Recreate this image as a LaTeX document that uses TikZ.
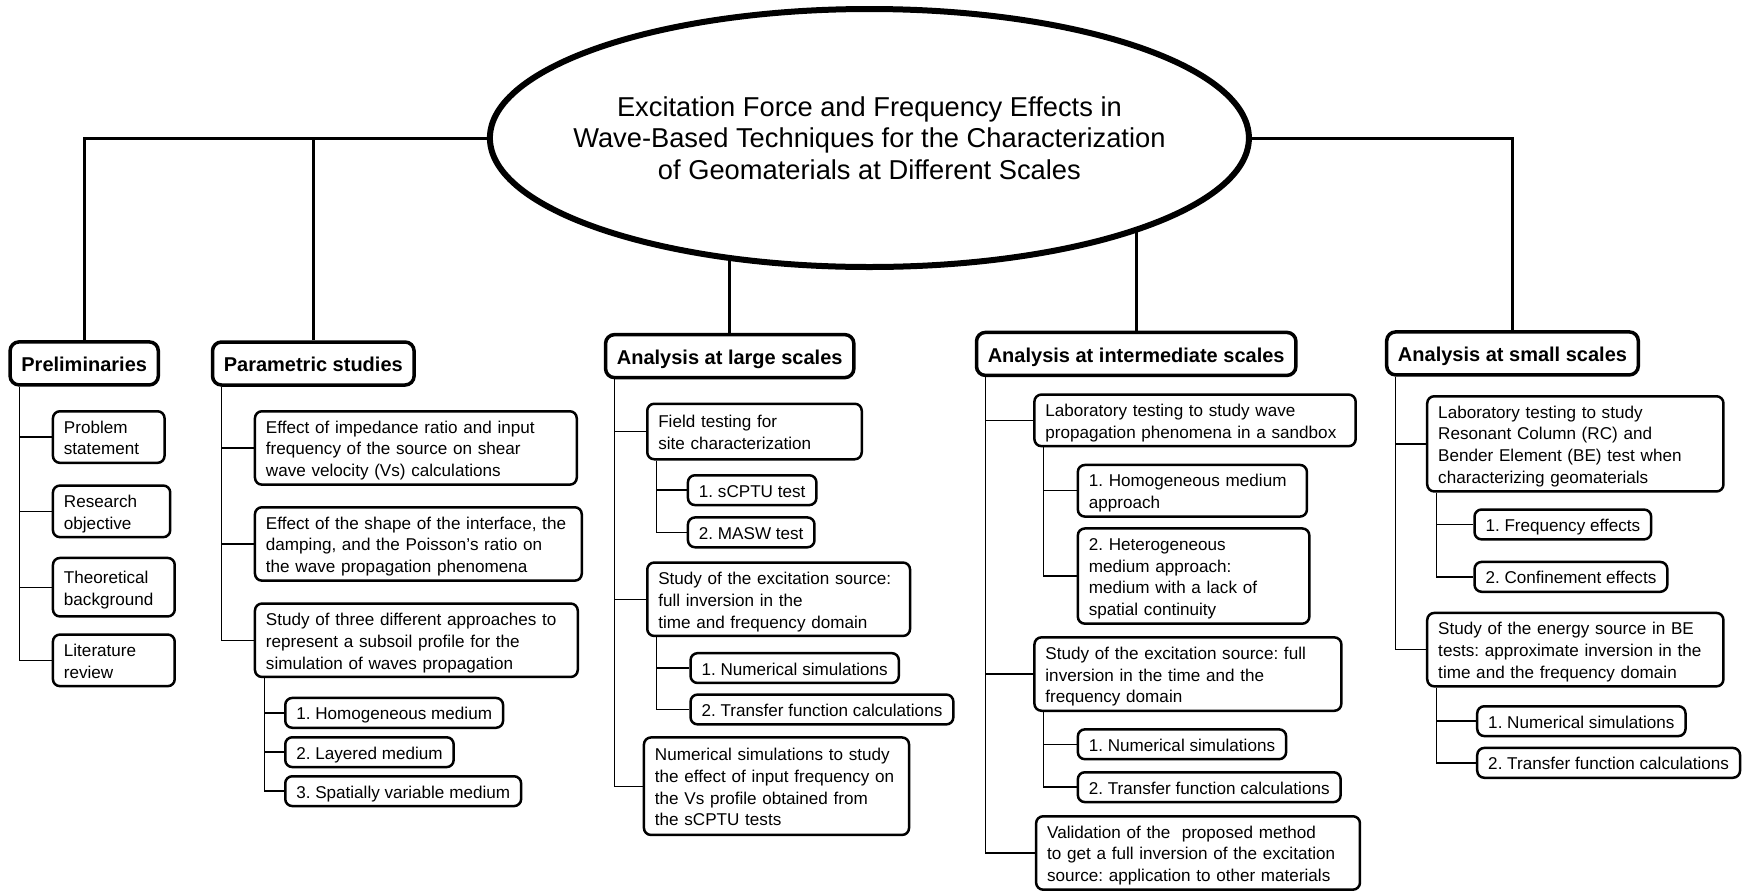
\documentclass[tikz,border=0pt]{standalone}
\usepackage{fontspec}
\setmainfont{Liberation Sans}
\usetikzlibrary{positioning,shapes.geometric,backgrounds}
\newcommand\boxstrut{\rule[-3.9pt]{0pt}{21.8pt}}
\frenchspacing

\begin{document}
\begin{tikzpicture}[x=1pt, y=-1pt,
    root/.style={ellipse, draw, fill=white, line width=6pt, minimum width=759pt, minimum height=258pt, inner sep=0pt},
    hd/.style={draw, rounded corners=9pt, line width=3.5pt, minimum height=43pt, inner xsep=11.3pt, inner ysep=0pt, text height=18.8pt, text depth=2pt, font=\fontsize{20}{24}\selectfont\bfseries},
    box/.style={draw, rounded corners=7pt, line width=2.5pt, align=left, inner xsep=11pt, inner ysep=4pt, font=\fontsize{17.1}{21.8}\selectfont, execute at begin node=\boxstrut, execute at end node=\boxstrut},
    trunk/.style={line width=3pt},
    link/.style={line width=1.4pt}]
  \useasboundingbox (0,0) rectangle (1754,895);

  \node[root] (root) at (869.4,138) {};
  \node[align=center, font=\fontsize{27.3}{31.7}\selectfont] (title) at (root.center) {Excitation Force and Frequency Effects in\\Wave-Based Techniques for the Characterization\\of Geomaterials at Different Scales};

  \node[hd] (pre) at (84.2,363.4) {Preliminaries};
  \node[hd] (par) at (313.3,363.5) {Parametric studies};
  \node[hd] (lar) at (729.7,356.1) {Analysis at large scales};
  \node[hd] (int) at (1136.2,353.9) {Analysis at intermediate scales};
  \node[hd] (sma) at (1512.5,353.4) {Analysis at small scales};

  \node[box, text width=89.6pt, below right=23.35pt and 43.35pt of pre.south west] (prob) {Problem\\statement};
  \node[box, text width=95.3pt, below right=20.2pt and 0pt of prob.south west] (res) {Research\\objective};
  \node[box, text width=99.8pt, minimum height=58.5pt, below right=18.3pt and 0pt of res.south west] (the) {Theoretical\\background};
  \node[box, text width=99.8pt, below right=15.6pt and 0pt of the.south west] (lit) {Literature\\review};

  \node[box, text width=299.8pt, below right=23.25pt and 42.95pt of par.south west] (ef1) {Effect of impedance ratio and input\\frequency of the source on shear\\wave velocity (Vs) calculations};
  \node[box, text width=304.8pt, below right=20.1pt and 0pt of ef1.south west] (ef2) {Effect of the shape of the interface, the\\damping, and the Poisson’s ratio on\\the wave propagation phenomena};
  \node[box, text width=300.8pt, below right=20.4pt and 0pt of ef2.south west] (thr) {Study of three different approaches to\\represent a subsoil profile for the\\simulation of waves propagation};
  \node[box, below right=18.5pt and 30.3pt of thr.south west] (hom) {1. Homogeneous medium};
  \node[box, below right=7pt and 0pt of hom.south west] (lay) {2. Layered medium};
  \node[box, below right=6.7pt and 0pt of lay.south west] (spa) {3. Spatially variable medium};

  \node[box, text width=192.5pt, minimum height=55.5pt, below right=23.15pt and 42.2pt of lar.south west] (fie) {Field testing for\\site characterization};
  \node[box, below right=13.5pt and 40.7pt of fie.south west] (scp) {1. sCPTU test};
  \node[box, below right=9.9pt and 0pt of scp.south west] (mas) {2. MASW test};
  \node[box, text width=240.8pt, below right=100.8pt and 0pt of fie.south west] (exl) {Study of the excitation source:\\full inversion in the\\time and frequency domain};
  \node[box, below right=14.7pt and 43.3pt of exl.south west] (nul) {1. Numerical simulations};
  \node[box, below right=9.1pt and 0pt of nul.south west] (trl) {2. Transfer function calculations};
  \node[box, text width=243.1pt, minimum height=97.5pt, below right=99pt and -3.3pt of exl.south west] (nsl) {Numerical simulations to study\\the effect of input frequency on\\the Vs profile obtained from\\the sCPTU tests};

  \node[box, text width=299.2pt, below right=16.15pt and 58.45pt of int.south west] (lab) {Laboratory testing to study wave\\propagation phenomena in a sandbox};
  \node[box, text width=207.1pt, below right=16.3pt and 43.4pt of lab.south west] (hoa) {1. Homogeneous medium\\approach};
  \node[box, text width=209.5pt, below right=9.4pt and 0pt of hoa.south west] (hea) {2. Heterogeneous\\medium approach:\\medium with a lack of\\spatial continuity};
  \node[box, text width=284.9pt, below right=188.7pt and 0pt of lab.south west] (exi) {Study of the excitation source: full\\inversion in the time and the\\frequency domain};
  \node[box, below right=16.1pt and 43.4pt of exi.south west] (nui) {1. Numerical simulations};
  \node[box, below right=10.6pt and 0pt of nui.south west] (tri) {2. Transfer function calculations};
  \node[box, text width=301.8pt, below right=103pt and 1.7pt of exi.south west] (val) {Validation of the\ \ proposed method\\to get a full inversion of the excitation\\source: application to other materials};

  \node[box, text width=274.2pt, below right=18.35pt and 41.05pt of sma.south west] (lrc) {Laboratory testing to study\\Resonant Column (RC) and\\Bender Element (BE) test when\\characterizing geomaterials};
  \node[box, below right=15.6pt and 47.3pt of lrc.south west] (fre) {1. Frequency effects};
  \node[box, below right=20.1pt and 0pt of fre.south west] (con) {2. Confinement effects};
  \node[box, text width=274.2pt, below right=119pt and 0pt of lrc.south west] (ens) {Study of the energy source in BE\\tests: approximate inversion in the\\time and the frequency domain};
  \node[box, below right=17.4pt and 50pt of ens.south west] (nus) {1. Numerical simulations};
  \node[box, below right=9.4pt and 0pt of nus.south west] (trs) {2. Transfer function calculations};

  \begin{scope}[on background layer]
    \draw[trunk] (root) -| (pre);
    \draw[trunk] (par) -- (par |- root);
    \draw[trunk] (lar) -- (lar |- root);
    \draw[trunk] (int) -- (int |- root);
    \draw[trunk] (root) -| (sma);
  \end{scope}

  \foreach \c in {prob,res,the,lit} \draw[link] ([xshift=11pt]pre.south west) |- (\c.west);
  \foreach \c in {ef1,ef2,thr} \draw[link] ([xshift=10.5pt]par.south west) |- (\c.west);
  \foreach \c in {hom,lay,spa} \draw[link] ([xshift=10.5pt]thr.south west) |- (\c.west);
  \foreach \c in {fie,exl,nsl} \draw[link] ([xshift=10.5pt]lar.south west) |- (\c.west);
  \foreach \c in {scp,mas} \draw[link] ([xshift=10.5pt]fie.south west) |- (\c.west);
  \foreach \c in {nul,trl} \draw[link] ([xshift=10.5pt]exl.south west) |- (\c.west);
  \foreach \c in {lab,exi,val} \draw[link] ([xshift=10.5pt]int.south west) |- (\c.west);
  \foreach \c in {hoa,hea} \draw[link] ([xshift=10.5pt]lab.south west) |- (\c.west);
  \foreach \c in {nui,tri} \draw[link] ([xshift=10.5pt]exi.south west) |- (\c.west);
  \foreach \c in {lrc,ens} \draw[link] ([xshift=10.5pt]sma.south west) |- (\c.west);
  \foreach \c in {fre,con} \draw[link] ([xshift=10.5pt]lrc.south west) |- (\c.west);
  \foreach \c in {nus,trs} \draw[link] ([xshift=10.5pt]ens.south west) |- (\c.west);
\end{tikzpicture}
\end{document}
